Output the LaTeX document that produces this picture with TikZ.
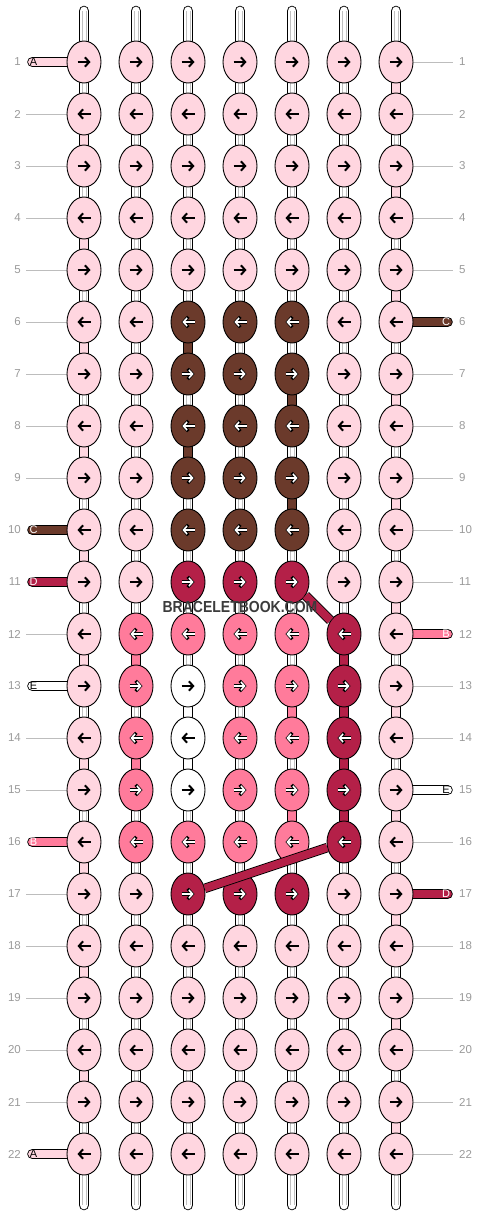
\documentclass[tikz,border=0pt]{standalone}
\usepackage{fontspec}
\setmainfont{Liberation Sans}
\usetikzlibrary{arrows.meta, shapes.geometric, backgrounds}

\definecolor{colA}{HTML}{FFD6E0}
\definecolor{colB}{HTML}{FF7B9B}
\definecolor{colC}{HTML}{6B3A2B}
\definecolor{colD}{HTML}{B42048}
\definecolor{colE}{HTML}{FFFFFF}
\definecolor{numgrey}{HTML}{9A9A9A}
\definecolor{linegrey}{HTML}{BDBDBD}
\definecolor{markgrey}{HTML}{3C3C3C}

\begin{document}
\begin{tikzpicture}[x=1pt, y=-1pt,
  knot/.style={ellipse, draw, line width=0.9pt, fill=col#1, minimum width=34pt, minimum height=42pt, inner sep=0pt},
  seg/.style={double=col#1, double distance=8.8pt, line width=0.9pt},
  warp/.style={double=white, double distance=8.8pt, line width=0.9pt, line cap=round},
  warpline/.style={draw=black!25, line width=0.7pt},
  band/.style={double=colD, double distance=7.8pt, line width=0.9pt},
  darktip/.style={draw=black, line width=3.3pt, -{Straight Barb[length=4.6pt,width=10.4pt]},
    postaction={draw=white, line width=1.6pt, shorten >=0.9pt, -{Straight Barb[length=3.6pt,width=8pt]}}},
  tip-A/.style={draw=black, line width=2pt, -{Straight Barb[length=4.2pt,width=9.4pt]}},
  tip-E/.style={tip-A},
  tip-B/.style={darktip}, tip-C/.style={darktip}, tip-D/.style={darktip},
  rownum/.style={text=numgrey, font=\fontsize{11.5}{12}\selectfont, inner sep=0pt},
  tag/.style={font=\fontsize{11}{11}\selectfont, inner sep=0pt}
]
\useasboundingbox (0,0) rectangle (480,1216);

% Knots
\foreach \r/\cols in {
  1/{A,A,A,A,A,A,A}, 2/{A,A,A,A,A,A,A}, 3/{A,A,A,A,A,A,A}, 4/{A,A,A,A,A,A,A},
  5/{A,A,A,A,A,A,A}, 6/{A,A,C,C,C,A,A}, 7/{A,A,C,C,C,A,A}, 8/{A,A,C,C,C,A,A},
  9/{A,A,C,C,C,A,A}, 10/{A,A,C,C,C,A,A}, 11/{A,A,D,D,D,A,A}, 12/{A,B,B,B,B,D,A},
  13/{A,B,E,B,B,D,A}, 14/{A,B,E,B,B,D,A}, 15/{A,B,E,B,B,D,A}, 16/{A,B,B,B,B,D,A},
  17/{A,A,D,D,D,A,A}, 18/{A,A,A,A,A,A,A}, 19/{A,A,A,A,A,A,A}, 20/{A,A,A,A,A,A,A},
  21/{A,A,A,A,A,A,A}, 22/{A,A,A,A,A,A,A}}{
  \foreach \k [count=\c] in \cols {
    \node[knot=\k] (k-\r-\c) at ({84+52*(\c-1)}, {62+52*(\r-1)}) {};
    \ifodd\r
      \draw[tip-\k] ([xshift=-6.5pt]k-\r-\c.center) -- ([xshift=6.5pt]k-\r-\c.center);
    \else
      \draw[tip-\k] ([xshift=6.5pt]k-\r-\c.center) -- ([xshift=-6.5pt]k-\r-\c.center);
    \fi
  }
}

\begin{scope}[on background layer]
% Warp strings
\foreach \c in {1,...,7} {
  \coordinate (top-\c) at ({84+52*(\c-1)}, 11);
  \coordinate (bot-\c) at ({84+52*(\c-1)}, 1205);
  \draw[warp] (top-\c) -- (bot-\c);
  \draw[warpline] ([xshift=-2pt]top-\c) -- ([xshift=-2pt]bot-\c);
  \draw[warpline] ([xshift=2pt]top-\c) -- ([xshift=2pt]bot-\c);
}

% Turns between rows
\foreach \r [evaluate=\r as \s using int(\r+1)] in {1,3,...,21}
  \draw[seg=A] (k-\r-7.center) -- (k-\s-7.center);
\foreach \r [evaluate=\r as \s using int(\r+1)] in {2,4,...,20}
  \draw[seg=A] (k-\r-1.center) -- (k-\s-1.center);
\foreach \r/\c/\k [evaluate=\r as \s using int(\r+1)] in {
  6/3/C, 7/5/C, 8/3/C, 9/5/C,
  12/2/B, 13/5/B, 14/2/B, 15/5/B,
  13/3/E, 14/3/E,
  12/6/D, 13/6/D, 14/6/D, 15/6/D}
  \draw[seg=\k] (k-\r-\c.center) -- (k-\s-\c.center);

% Rows
\foreach \r in {1,...,22}
  \foreach \c [evaluate=\c as \d using int(\c+1)] in {1,...,6}
    \draw[seg=A] (k-\r-\c.center) -- (k-\r-\d.center);

% Threads in and out
\foreach \r/\k/\t in {1/A/black, 10/C/white, 11/D/white, 13/E/black, 16/B/white, 22/A/black} {
  \coordinate (in-\r) at (32.5, {62+52*(\r-1)});
  \draw[seg=\k, line cap=round] (in-\r) -- (k-\r-1.center);
  \node[tag, text=\t] (tagl-\r) at (33.5, {62+52*(\r-1)}) {\k};
}
\foreach \r/\k/\t in {6/C/white, 12/B/white, 15/E/black, 17/D/white} {
  \coordinate (out-\r) at (447.5, {62+52*(\r-1)});
  \draw[seg=\k, line cap=round] (k-\r-7.center) -- (out-\r);
  \node[tag, text=\t] (tagr-\r) at (446, {62+52*(\r-1)}) {\k};
}

% Guide lines
\foreach \r in {2,...,9,12,14,15,17,18,19,20,21} {
  \coordinate (gl-\r) at (26, {62+52*(\r-1)});
  \draw[linegrey, line width=0.8pt] (gl-\r) -- (k-\r-1.west);
}
\foreach \r in {1,...,5,7,8,9,10,11,13,14,16,18,19,20,21,22} {
  \coordinate (gr-\r) at (453, {62+52*(\r-1)});
  \draw[linegrey, line width=0.8pt] (k-\r-7.east) -- (gr-\r);
}
\end{scope}

% Row numbers
\foreach \r in {1,...,22} {
  \node[rownum, anchor=east] (nl-\r) at (21, {62+52*(\r-1)}) {\r};
  \node[rownum, anchor=west] (nr-\r) at (459, {62+52*(\r-1)}) {\r};
}

% Moving thread
\draw[band] (k-11-5) -- (k-12-6);
\draw[band] (k-16-6) -- (k-17-3);

\node[text=markgrey, font=\bfseries\fontsize{16}{16}\selectfont, inner sep=0pt] (mark) at (240,607)
  {\scalebox{0.875}[1]{BRACELETBOOK.COM}};

\end{tikzpicture}
\end{document}
